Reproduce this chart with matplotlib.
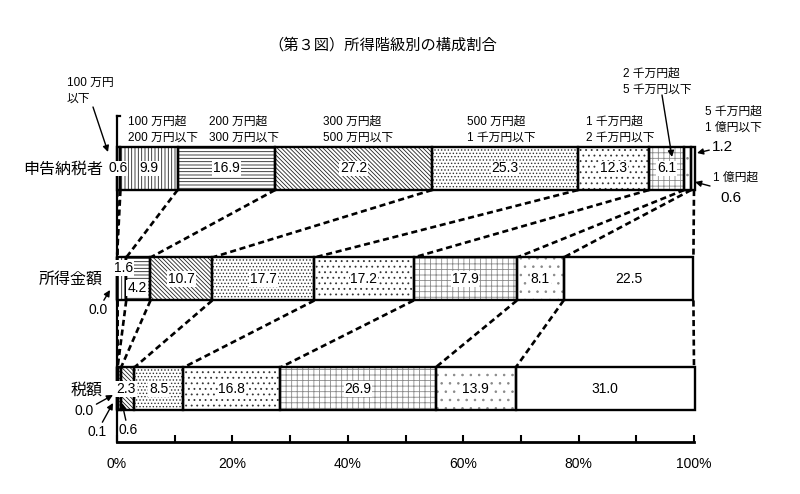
import matplotlib
matplotlib.use('Agg')
import matplotlib.pyplot as plt
import numpy as np

plt.rcParams['font.family'] = ['Liberation Sans', 'Noto Sans CJK JP', 'DejaVu Sans']
plt.rcParams['hatch.linewidth'] = 0.6

# ---------------- data ----------------
title = '（第３図）所得階級別の構成割合'
categories = ['100 万円\n以下', '100 万円超\n200 万円以下', '200 万円超\n300 万円以下',
              '300 万円超\n500 万円以下', '500 万円超\n1 千万円以下', '1 千万円超\n2 千万円以下',
              '2 千万円超\n5 千万円以下', '5 千万円超\n1 億円以下', '1 億円超']
rows = ['申告納税者', '所得金額', '税額']
taxpayers = [0.6, 9.9, 16.9, 27.2, 25.3, 12.3, 6.1, 1.2, 0.6]
income = [0.0, 1.6, 4.2, 10.7, 17.7, 17.2, 17.9, 8.1, 22.5]
tax = [0.0, 0.1, 0.6, 2.3, 8.5, 16.8, 26.9, 13.9, 31.0]
tick_values = [0, 20, 40, 60, 80, 100]
tick_labels = ['0%', '20%', '40%', '60%', '80%', '100%']

series = [taxpayers, income, tax]
hatches = ['', '|||||', '-----', '\\' * 8, '.....', '...', '+++', '..', '']
hatch_colors = ['black', '#222222', '#222222', '#222222', '#333333', '#333333', '#8a8a8a',
                '#888888', 'black']

# ---------------- layout ----------------
W, H = 800, 494
fig = plt.figure(figsize=(8.0, 4.94), dpi=100)
x0px, x1px = 117, 694
ytop, ybot = 100, 442
ax = fig.add_axes([x0px / W, (H - ybot) / H, (x1px - x0px) / W, (ybot - ytop) / H])
ax.set_xlim(0, 100)
ax.set_ylim(ybot, ytop)

def X(px):
    return (px - x0px) / (x1px - x0px) * 100

row_y = [168.5, 279, 389]
bar_h = 43

cums = []
for r, vals in enumerate(series):
    left = np.concatenate([[0], np.cumsum(vals)[:-1]])
    cums.append(np.concatenate([[0], np.cumsum(vals)]))
    for i, v in enumerate(vals):
        # hatch layer
        ax.barh(row_y[r], v, left=left[i], height=bar_h, color='white',
                edgecolor=hatch_colors[i], hatch=hatches[i], linewidth=0,
                clip_on=False, zorder=2)
        # outline layer
        ax.barh(row_y[r], v, left=left[i], height=bar_h, facecolor='none',
                edgecolor='black', linewidth=1.7, clip_on=False, zorder=2.2)
    for i, v in enumerate(vals):
        if v >= 5:
            ax.text(left[i] + v / 2, row_y[r], f'{v:.1f}', ha='center', va='center',
                    fontsize=10, zorder=4,
                    bbox=dict(facecolor='white', edgecolor='none', pad=0.6))
    ax.text(X(103), row_y[r] + 1, rows[r], ha='right', va='center', fontsize=11.5)

# dashed connectors
for r in range(len(series) - 1):
    a, b = cums[r], cums[r + 1]
    for i in range(len(a)):
        ax.plot([min(a[i], 100), min(b[i], 100)],
                [row_y[r] + bar_h / 2, row_y[r + 1] - bar_h / 2],
                color='black', lw=1.9, linestyle=(0, (2.3, 1.4)), clip_on=False, zorder=1)

# special labels
lab = dict(fontsize=10, zorder=4)
wb = dict(facecolor='white', edgecolor='none', pad=0.6)
ax.text(X(118), row_y[0], f'{taxpayers[0]:.1f}', ha='center', va='center', bbox=wb, **lab)
ax.text(X(124), 268, f'{income[1]:.1f}', ha='center', va='center', bbox=wb, **lab)
ax.text(X(137), 288, f'{income[2]:.1f}', ha='center', va='center', bbox=wb, **lab)
ax.text(X(126), row_y[2], f'{tax[3]:.1f}', ha='center', va='center', bbox=wb, **lab)

arrow = dict(arrowstyle='-|>', color='black', lw=1.0, mutation_scale=9, shrinkA=0, shrinkB=0)

def ann(txt, xy, xyt, ha='center', fs=10):
    ax.annotate(txt, xy=xy, xytext=xyt, ha=ha, va='center', fontsize=fs,
                arrowprops=arrow, annotation_clip=False, zorder=5)

ann('', (X(108), 152), (X(93), 107))
ax.text(X(67), 91, categories[0], ha='left', va='center', fontsize=8.5, linespacing=1.45)
ann(f'{taxpayers[7]:.1f}', (X(697), 153), (X(712), 147), ha='left', fs=11)
ann('', (X(695), 182), (X(710), 186))
ax.text(X(720), 198, f'{taxpayers[8]:.1f}', ha='left', va='center', fontsize=11)
ax.text(X(713), 178, categories[8], ha='left', va='center', fontsize=8.5)
ann('', (X(672), 157), (X(662), 95))

cat_pos = [None, (128, 129.5), (209, 129.5), (323, 129.5), (467, 129.5), (586, 129.5),
           (623, 82), (705, 120)]
for i in range(1, 8):
    px, py = cat_pos[i]
    ax.text(X(px), py, categories[i], ha='left', va='center', fontsize=8.5, linespacing=1.45)

ann(f'{income[0]:.1f}', (X(110), 290), (X(98), 310), fs=10)
ann(f'{tax[0]:.1f}', (X(113), 395), (X(84), 411), fs=10)
ann(f'{tax[1]:.1f}', (X(113), 403), (X(97), 432), fs=10)
ann(f'{tax[2]:.1f}', (X(122), 403), (X(128), 430), fs=10)

# axes styling
for s in ['top', 'right']:
    ax.spines[s].set_visible(False)
ax.spines['left'].set_bounds(ybot, 116)
ax.spines['left'].set_linewidth(1.6)
ax.spines['bottom'].set_linewidth(2)
ax.plot([0, X(120)], [116, 116], color='black', lw=1.6, clip_on=False)
ax.set_yticks([])
ax.set_xticks(tick_values)
ax.set_xticklabels(tick_labels, fontsize=10)
ax.set_xticks([10, 30, 50, 70, 90], minor=True)
ax.tick_params(axis='x', which='both', direction='in', length=5, width=1.5, pad=11)

fig.text(383 / W, 1 - 45 / H, title, ha='center', va='center', fontsize=11)

fig.savefig('out.png', dpi=100)
